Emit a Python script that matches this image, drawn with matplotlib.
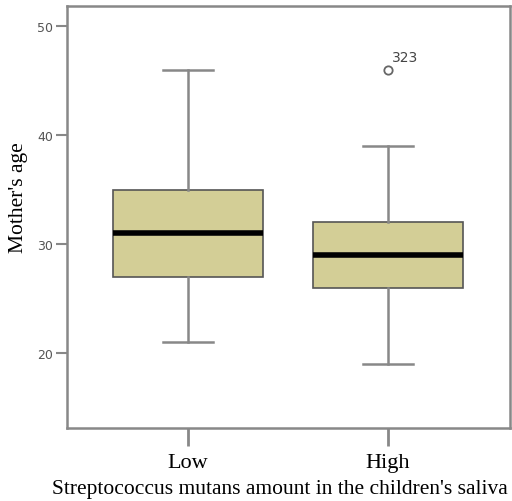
import matplotlib
matplotlib.use("Agg")
import matplotlib.pyplot as plt

# box statistics
groups = ["Low", "High"]
whisker_low = [21, 19]
q1 = [27, 26]
median = [31, 29]
q3 = [35, 32]
whisker_high = [46, 39]
outliers = [[], [46]]
outlier_ids = [[], ["323"]]

yticks = [20, 30, 40, 50]

fig = plt.figure(figsize=(5.12, 5.02), dpi=100)
ax = fig.add_axes([67 / 512, 1 - 429 / 502, (510 - 67) / 512, (429 - 7) / 502])

stats = []
for i, g in enumerate(groups):
    stats.append(dict(label=g, whislo=whisker_low[i], q1=q1[i], med=median[i],
                      q3=q3[i], whishi=whisker_high[i], fliers=outliers[i]))

ax.bxp(stats, positions=[1, 2], widths=0.75, patch_artist=True,
       boxprops=dict(facecolor="#D3CE96", edgecolor="#555555", linewidth=1.2),
       medianprops=dict(color="black", linewidth=4, solid_capstyle="butt"),
       whiskerprops=dict(color="#888888", linewidth=1.8),
       capprops=dict(color="#888888", linewidth=1.8),
       capwidths=0.25,
       flierprops=dict(marker="o", markersize=6, markerfacecolor="none",
                       markeredgecolor="#666666", markeredgewidth=1.3))

# outlier case labels
for i, ids in enumerate(outlier_ids):
    for val, lab in zip(outliers[i], ids):
        ax.annotate(lab, xy=(i + 1, val), xytext=(3, 4), textcoords="offset points",
                    fontsize=10, color="#444444", ha="left", va="bottom")

ax.set_xlim(0.395, 2.61)
ax.set_ylim(13.1, 51.85)
ax.set_yticks(yticks)
ax.set_xticks([1, 2])
ax.set_xticklabels(groups, fontfamily="Liberation Serif", fontsize=16)
ax.tick_params(axis="y", direction="out", length=8, width=1.5, color="#888888",
               labelsize=9, labelcolor="#555555", pad=2)
ax.tick_params(axis="x", direction="out", length=13, width=2, color="#888888", pad=5)

for s in ax.spines.values():
    s.set_color("#888888")
    s.set_linewidth(1.8)

# axis titles placed where the reference has them
fig.text(19 / 512, 1 - 198 / 502, "Mother's age", rotation=90, ha="center", va="center",
         fontfamily="Liberation Serif", fontsize=15.5)
fig.text(280 / 512, 1 - 490 / 502, "Streptococcus mutans amount in the children's saliva",
         ha="center", va="center", fontfamily="Liberation Serif", fontsize=15.5)

fig.savefig("out.png", dpi=100)
